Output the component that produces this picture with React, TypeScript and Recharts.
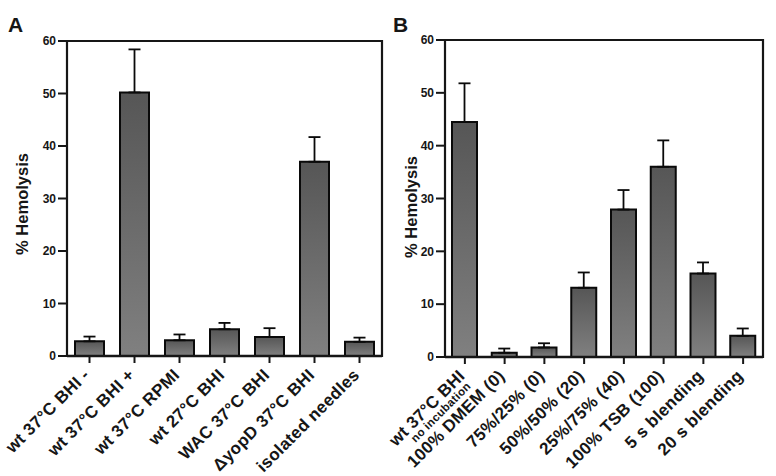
import React from 'react';
import { BarChart, Bar, XAxis, YAxis, ErrorBar, ReferenceArea } from 'recharts';

const categoriesA = [
  'wt 37°C BHI -',
  'wt 37°C BHI +',
  'wt 37°C RPMI',
  'wt 27°C BHI',
  'WAC 37°C BHI',
  'ΔyopD 37°C BHI',
  'isolated needles',
];
const hemolysisA = [2.8, 50.2, 3.0, 5.1, 3.6, 37.0, 2.7];
const errorA = [0.9, 8.2, 1.1, 1.2, 1.7, 4.7, 0.8];

const categoriesB = [
  'wt 37°C BHI',
  '100% DMEM (0)',
  '75%/25% (0)',
  '50%/50% (20)',
  '25%/75% (40)',
  '100% TSB (100)',
  '5 s blending',
  '20 s blending',
];
const subLabelsB = ['no incubation', '', '', '', '', '', '', ''];
const hemolysisB = [44.5, 0.8, 1.8, 13.1, 27.9, 36.0, 15.8, 4.0];
const errorB = [7.3, 0.8, 0.8, 2.9, 3.7, 5.0, 2.1, 1.4];

const yTicks = [0, 10, 20, 30, 40, 50, 60];

const dataA = categoriesA.map((name, i) => ({ name, value: hemolysisA[i], err: [0, errorA[i]] }));
const dataB = categoriesB.map((name, i) => ({ name, sub: subLabelsB[i], value: hemolysisB[i], err: [0, errorB[i]] }));

const FONT = '"Liberation Sans", Arial, Helvetica, sans-serif';
const INK = '#161616';

const makeTick = (subs: string[] | null) => (props: any) => {
  const { x, y, payload, index } = props;
  const sub = subs ? subs[index] : '';
  return (
    <g transform={`translate(${x + 1},${y + 11})`}>
      <text
        transform="rotate(-45)"
        textAnchor="end"
        fontFamily={FONT}
        fontWeight="bold"
        fontSize={17}
        letterSpacing={0.3}
        fill={INK}
      >
        {payload.value}
      </text>
      {sub ? (
        <text
          transform="rotate(-45)"
          x={-3}
          y={11}
          textAnchor="end"
          fontFamily={FONT}
          fontWeight="bold"
          fontSize={11.5}
          letterSpacing={0.3}
          fill={INK}
        >
          {sub}
        </text>
      ) : null}
    </g>
  );
};

const yTickStyle = { fontFamily: FONT, fontWeight: 'bold', fontSize: 12, fill: INK } as any;

function Panel({ data, width, yWidth, marginRight, top, barSize, subs }: any) {
  return (
    <BarChart
      width={width}
      height={476}
      data={data}
      margin={{ top, right: marginRight, left: 0, bottom: 0 }}
      style={{ overflow: 'visible' }}
    >
      <ReferenceArea y1={0} y2={60} fill="none" fillOpacity={0} stroke={INK} strokeWidth={2.2} />
      <XAxis
        dataKey="name"
        interval={0}
        height={476 - 356 - (top === 40 ? 1 : 0)}
        tickSize={7}
        tickMargin={2}
        axisLine={{ stroke: INK, strokeWidth: 2.5 }}
        tickLine={{ stroke: INK, strokeWidth: 2 }}
        tick={makeTick(subs)}
      />
      <YAxis
        width={yWidth}
        domain={[0, 60]}
        ticks={yTicks}
        interval={0}
        tickSize={9}
        tickMargin={2}
        axisLine={{ stroke: INK, strokeWidth: 2 }}
        tickLine={{ stroke: INK, strokeWidth: 2 }}
        tick={yTickStyle}
      />
      <Bar
        dataKey="value"
        fill="url(#barGrad)"
        stroke="#0a0a0a"
        strokeWidth={2}
        barSize={barSize}
        isAnimationActive={false}
      >
        <ErrorBar dataKey="err" direction="y" width={6} stroke="#0a0a0a" strokeWidth={1.8} />
      </Bar>
    </BarChart>
  );
}

export default function App() {
  return (
    <div style={{ position: 'absolute', left: 0, top: 0, width: 776, height: 476, background: '#fff', overflow: 'hidden' }}>
      <svg width={0} height={0} style={{ position: 'absolute' }}>
        <defs>
          <linearGradient id="barGrad" x1="0" y1="0" x2="0" y2="1">
            <stop offset="0%" stopColor="#565656" />
            <stop offset="100%" stopColor="#808080" />
          </linearGradient>
        </defs>
      </svg>
      <div style={{ position: 'absolute', left: 0, top: 0 }}>
        <Panel data={dataA} width={390} yWidth={67} marginRight={8} top={41} barSize={29} subs={null} />
      </div>
      <div style={{ position: 'absolute', left: 376, top: 0 }}>
        <Panel data={dataB} width={400} yWidth={69} marginRight={13} top={40} barSize={25} subs={subLabelsB} />
      </div>
      <svg width={776} height={476} style={{ position: 'absolute', left: 0, top: 0, pointerEvents: 'none' }}>
        <text x={8} y={32} fontFamily={FONT} fontWeight="bold" fontSize={21} fill={INK}>A</text>
        <text x={393} y={32} fontFamily={FONT} fontWeight="bold" fontSize={21} fill={INK}>B</text>
        <text
          transform="translate(22,204) rotate(-90)"
          textAnchor="middle"
          dominantBaseline="central"
          fontFamily={FONT}
          fontWeight="bold"
          fontSize={16.5}
          fill={INK}
        >
          % Hemolysis
        </text>
        <text
          transform="translate(411,207) rotate(-90)"
          textAnchor="middle"
          dominantBaseline="central"
          fontFamily={FONT}
          fontWeight="bold"
          fontSize={16.5}
          fill={INK}
        >
          % Hemolysis
        </text>
      </svg>
    </div>
  );
}
